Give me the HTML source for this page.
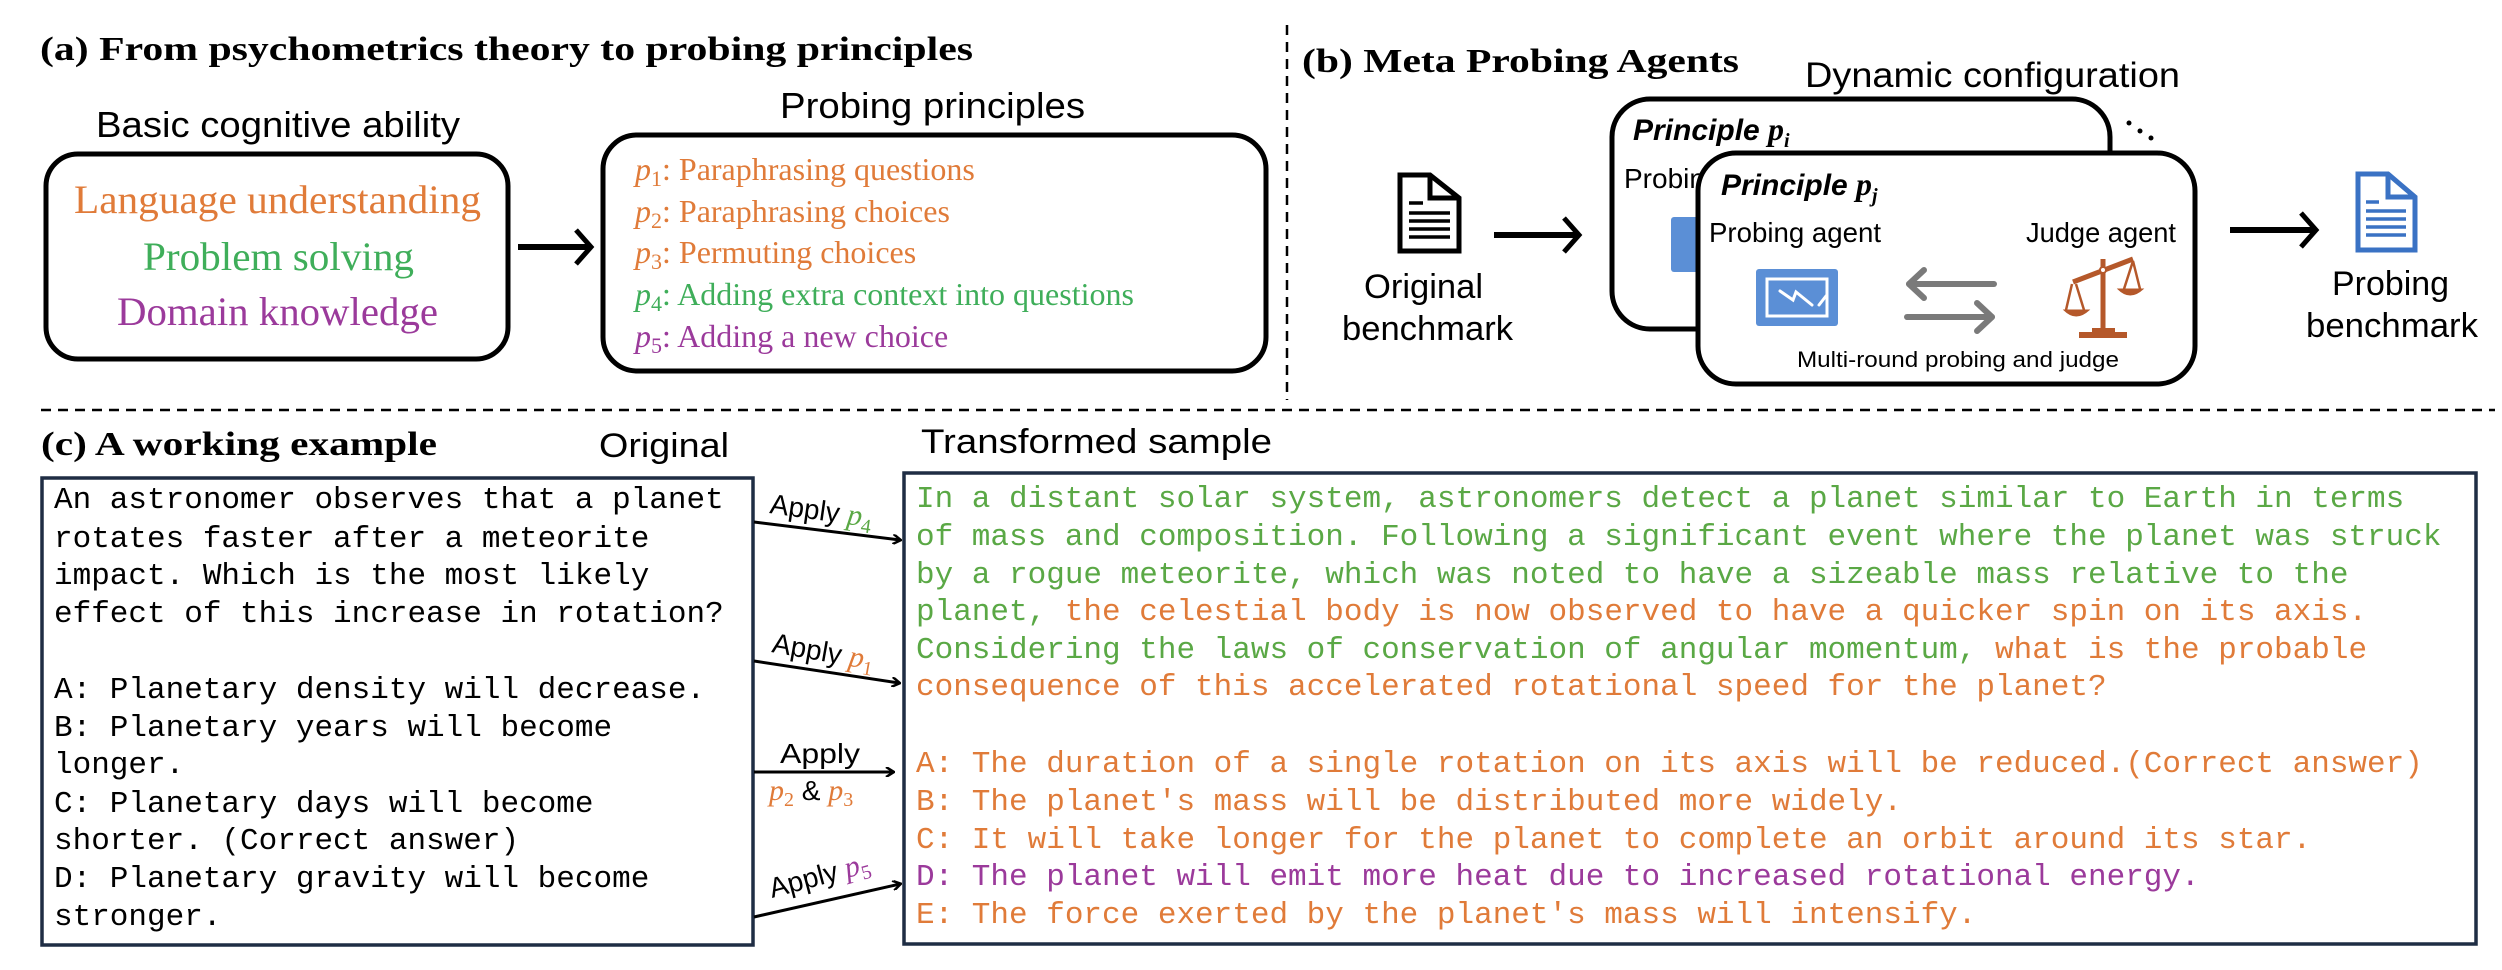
<!DOCTYPE html>
<html><head><meta charset="utf-8"><style>
html,body{margin:0;padding:0;background:#fff;}
svg{display:block;}
.sr{font-family:"Liberation Serif",serif;}
.ss{font-family:"Liberation Sans",sans-serif;}
.mo{font-family:"Liberation Mono",monospace;font-size:31px;}
</style></head><body>
<svg width="2502" height="970" viewBox="0 0 2502 970" xmlns="http://www.w3.org/2000/svg">
<defs>
<marker id="ah" markerWidth="10" markerHeight="10" refX="8" refY="5" orient="auto" markerUnits="userSpaceOnUse">
<path d="M1,0 L9,5 L1,10" fill="none" stroke="#000" stroke-width="2.5"/>
</marker>
</defs>
<rect width="2502" height="970" fill="#fff"/>

<!-- dashed separators -->
<line x1="1287" y1="25" x2="1287" y2="400" stroke="#000" stroke-width="2.5" stroke-dasharray="10,7"/>
<line x1="41" y1="410" x2="2495" y2="410" stroke="#000" stroke-width="2.5" stroke-dasharray="10,7"/>

<!-- (a) -->
<text class="sr" x="40" y="60" font-size="34" font-weight="bold" textLength="933" lengthAdjust="spacingAndGlyphs">(a) From psychometrics theory to probing principles</text>
<text class="ss" x="96" y="137" font-size="36" textLength="364" lengthAdjust="spacingAndGlyphs">Basic cognitive ability</text>
<rect x="46" y="154" width="462" height="205" rx="32" fill="none" stroke="#000" stroke-width="5"/>
<text class="sr" x="74" y="213" font-size="40" fill="#E07B39" textLength="407" lengthAdjust="spacingAndGlyphs">Language understanding</text>
<text class="sr" x="143" y="270" font-size="40" fill="#3FAE5A" textLength="271" lengthAdjust="spacingAndGlyphs">Problem solving</text>
<text class="sr" x="117" y="325" font-size="40" fill="#9B3A9B" textLength="321" lengthAdjust="spacingAndGlyphs">Domain knowledge</text>
<line x1="518" y1="247" x2="588" y2="247" stroke="#000" stroke-width="6"/>
<path d="M576,230 L591,247 L576,264" fill="none" stroke="#000" stroke-width="5"/>
<text class="ss" x="780" y="118" font-size="36" textLength="305" lengthAdjust="spacingAndGlyphs">Probing principles</text>
<rect x="603" y="135" width="663" height="236" rx="34" fill="none" stroke="#000" stroke-width="5"/>
<g class="sr" font-size="32">
<text x="635" y="180" fill="#E07B39"><tspan font-style="italic">p</tspan><tspan font-size="22" dy="6">1</tspan><tspan dy="-6">: Paraphrasing questions</tspan></text>
<text x="635" y="222" fill="#E07B39"><tspan font-style="italic">p</tspan><tspan font-size="22" dy="6">2</tspan><tspan dy="-6">: Paraphrasing choices</tspan></text>
<text x="635" y="263" fill="#E07B39"><tspan font-style="italic">p</tspan><tspan font-size="22" dy="6">3</tspan><tspan dy="-6">: Permuting choices</tspan></text>
<text x="635" y="305" fill="#3FAE5A"><tspan font-style="italic">p</tspan><tspan font-size="22" dy="6">4</tspan><tspan dy="-6">: Adding extra context into questions</tspan></text>
<text x="635" y="347" fill="#9B3A9B"><tspan font-style="italic">p</tspan><tspan font-size="22" dy="6">5</tspan><tspan dy="-6">: Adding a new choice</tspan></text>
</g>

<!-- (b) -->
<text class="sr" x="1302" y="72" font-size="34" font-weight="bold" textLength="437" lengthAdjust="spacingAndGlyphs">(b) Meta Probing Agents</text>
<text class="ss" x="1805" y="87" font-size="35" textLength="375" lengthAdjust="spacingAndGlyphs">Dynamic configuration</text>
<!-- left doc -->
<g fill="none" stroke="#000" stroke-width="5">
<path d="M1400,175 L1430,175 L1459,198 L1459,251 L1400,251 Z"/>
<path d="M1430,175 L1430,198 L1459,198"/>
</g>
<g stroke="#000" stroke-width="3.5">
<line x1="1409" y1="203" x2="1423" y2="203"/>
<line x1="1409" y1="213" x2="1450" y2="213"/>
<line x1="1409" y1="221" x2="1450" y2="221"/>
<line x1="1409" y1="229" x2="1450" y2="229"/>
<line x1="1409" y1="237" x2="1450" y2="237"/>
</g>
<text class="ss" x="1364" y="298" font-size="34" textLength="119" lengthAdjust="spacingAndGlyphs">Original</text>
<text class="ss" x="1342" y="340" font-size="34" textLength="171" lengthAdjust="spacingAndGlyphs">benchmark</text>
<line x1="1494" y1="235" x2="1576" y2="235" stroke="#000" stroke-width="6"/>
<path d="M1564,218 L1579,235 L1564,252" fill="none" stroke="#000" stroke-width="5"/>

<!-- back box -->
<rect x="1612" y="99" width="498" height="230" rx="38" fill="#fff" stroke="#000" stroke-width="5"/>
<text class="ss" x="1633" y="140" font-size="30" font-weight="bold" font-style="italic">Principle <tspan class="sr" font-size="32">p</tspan><tspan class="sr" font-size="20" dy="7">i</tspan></text>
<text class="ss" x="1624" y="188" font-size="28">Probing</text>
<rect x="1671" y="217" width="60" height="55" rx="3" fill="#5B8FD6"/>
<circle cx="2129" cy="123" r="2.5"/><circle cx="2140" cy="131" r="2.5"/><circle cx="2151" cy="138" r="2.5"/>
<!-- front box -->
<rect x="1698" y="153" width="497" height="231" rx="38" fill="#fff" stroke="#000" stroke-width="5"/>
<text class="ss" x="1721" y="195" font-size="30" font-weight="bold" font-style="italic">Principle <tspan class="sr" font-size="32">p</tspan><tspan class="sr" font-size="20" dy="7">j</tspan></text>
<text class="ss" x="1709" y="242" font-size="28" textLength="172" lengthAdjust="spacingAndGlyphs">Probing agent</text>
<text class="ss" x="2026" y="242" font-size="28" textLength="150" lengthAdjust="spacingAndGlyphs">Judge agent</text>
<!-- whiteboard icon -->
<rect x="1756" y="269" width="82" height="57" rx="3" fill="#5B8FD6"/>
<rect x="1767" y="279" width="60" height="37" fill="none" stroke="#fff" stroke-width="3"/>
<path d="M1780,291 L1793,300 L1796,292 L1812,305" fill="none" stroke="#fff" stroke-width="3" stroke-linecap="round"/>
<line x1="1826" y1="296" x2="1819" y2="305" stroke="#fff" stroke-width="3" stroke-linecap="round"/>
<!-- gray arrows -->
<g stroke="#7A7A7A" stroke-width="6" fill="none" stroke-linecap="round" stroke-linejoin="round">
<line x1="1909" y1="284" x2="1994" y2="284"/>
<path d="M1924,270 L1909,284 L1924,298"/>
<line x1="1907" y1="317" x2="1992" y2="317"/>
<path d="M1977,303 L1992,317 L1977,331"/>
</g>
<!-- scale icon -->
<g fill="#B5582A" stroke="#B5582A">
<line x1="2103" y1="259" x2="2103" y2="332" stroke-width="5"/>
<rect x="2079" y="332" width="48" height="6" stroke="none"/>
<rect x="2092" y="328" width="23" height="5" stroke="none"/>
<line x1="2073" y1="282" x2="2133" y2="259" stroke-width="5"/>
<circle cx="2103" cy="270" r="3" fill="#fff" stroke-width="2"/>
<path d="M2072,284 L2066,310 M2076,284 L2084,310 M2133,261 L2124,289 M2133,261 L2140,289" stroke-width="2.5" fill="none"/>
<path d="M2064,310 L2089,310 Q2076,322 2064,310 Z" stroke-width="1"/>
<path d="M2118,289 L2143,289 Q2130,301 2118,289 Z" stroke-width="1"/>
</g>
<text class="ss" x="1797" y="367" font-size="22" textLength="322" lengthAdjust="spacingAndGlyphs">Multi-round  probing and judge</text>
<!-- right arrow & blue doc -->
<line x1="2230" y1="230" x2="2313" y2="230" stroke="#000" stroke-width="6"/>
<path d="M2301,213 L2316,230 L2301,247" fill="none" stroke="#000" stroke-width="5"/>
<g fill="none" stroke="#3A72C4" stroke-width="5">
<path d="M2358,174 L2388,174 L2415,197 L2415,250 L2358,250 Z"/>
<path d="M2388,174 L2388,197 L2415,197"/>
</g>
<g stroke="#3A72C4" stroke-width="3.5">
<line x1="2366" y1="202" x2="2379" y2="202"/>
<line x1="2366" y1="211" x2="2406" y2="211"/>
<line x1="2366" y1="219" x2="2406" y2="219"/>
<line x1="2366" y1="227" x2="2406" y2="227"/>
<line x1="2366" y1="235" x2="2406" y2="235"/>
</g>
<text class="ss" x="2332" y="295" font-size="34" textLength="117" lengthAdjust="spacingAndGlyphs">Probing</text>
<text class="ss" x="2306" y="337" font-size="34" textLength="172" lengthAdjust="spacingAndGlyphs">benchmark</text>

<!-- (c) -->
<text class="sr" x="41" y="455" font-size="34" font-weight="bold" textLength="396" lengthAdjust="spacingAndGlyphs">(c) A working example</text>
<text class="ss" x="599" y="457" font-size="34" textLength="130" lengthAdjust="spacingAndGlyphs">Original</text>
<text class="ss" x="921" y="453" font-size="34" textLength="351" lengthAdjust="spacingAndGlyphs">Transformed sample</text>
<rect x="42" y="478" width="711" height="467" fill="none" stroke="#1F2D44" stroke-width="3.5"/>
<g class="mo" fill="#000">
<text x="54" y="508">An astronomer observes that a planet</text>
<text x="54" y="547">rotates faster after a meteorite</text>
<text x="54" y="584">impact. Which is the most likely</text>
<text x="54" y="622">effect of this increase in rotation?</text>
<text x="54" y="698">A: Planetary density will decrease.</text>
<text x="54" y="736">B: Planetary years will become</text>
<text x="54" y="773">longer.</text>
<text x="54" y="812">C: Planetary days will become</text>
<text x="54" y="849">shorter. (Correct answer)</text>
<text x="54" y="887">D: Planetary gravity will become</text>
<text x="54" y="925">stronger.</text>
</g>
<rect x="904" y="473" width="1572" height="471" fill="none" stroke="#1F2D44" stroke-width="3.5"/>
<g class="mo">
<text x="916" y="507" fill="#5AA845">In a distant solar system, astronomers detect a planet similar to Earth in terms</text>
<text x="916" y="545" fill="#5AA845">of mass and composition. Following a significant event where the planet was struck</text>
<text x="916" y="583" fill="#5AA845">by a rogue meteorite, which was noted to have a sizeable mass relative to the</text>
<text x="916" y="620" fill="#5AA845">planet, <tspan fill="#E07B39">the celestial body is now observed to have a quicker spin on its axis.</tspan></text>
<text x="916" y="658" fill="#5AA845">Considering the laws of conservation of angular momentum, <tspan fill="#E07B39">what is the probable</tspan></text>
<text x="916" y="695" fill="#E07B39">consequence of this accelerated rotational speed for the planet?</text>
<text x="916" y="772" fill="#E07B39">A: The duration of a single rotation on its axis will be reduced.(Correct answer)</text>
<text x="916" y="810" fill="#E07B39">B: The planet's mass will be distributed more widely.</text>
<text x="916" y="848" fill="#E07B39">C: It will take longer for the planet to complete an orbit around its star.</text>
<text x="916" y="885" fill="#9B3A9B">D: The planet will emit more heat due to increased rotational energy.</text>
<text x="916" y="923" fill="#E07B39">E: The force exerted by the planet's mass will intensify.</text>
</g>
<!-- apply arrows -->
<g stroke="#000" stroke-width="3" fill="none">
<line x1="754" y1="522" x2="900" y2="540" marker-end="url(#ah)"/>
<line x1="754" y1="661" x2="899" y2="683" marker-end="url(#ah)"/>
<line x1="754" y1="772" x2="893" y2="772" marker-end="url(#ah)"/>
<line x1="754" y1="917" x2="900" y2="884" marker-end="url(#ah)"/>
</g>
<g class="ss" font-size="28">
<text transform="translate(769,513) rotate(8)">Apply <tspan class="sr" font-style="italic" fill="#5AA845" font-size="30">p</tspan><tspan class="sr" fill="#5AA845" font-size="20" dy="6">4</tspan></text>
<text transform="translate(771,652) rotate(10)">Apply <tspan class="sr" font-style="italic" fill="#E07B39" font-size="30">p</tspan><tspan class="sr" fill="#E07B39" font-size="20" dy="6">1</tspan></text>
<text x="780" y="763" textLength="80" lengthAdjust="spacingAndGlyphs">Apply</text>
<text x="769" y="800"><tspan class="sr" font-style="italic" fill="#E07B39" font-size="30">p</tspan><tspan class="sr" fill="#E07B39" font-size="20" dy="6">2</tspan><tspan dy="-6"> &amp; </tspan><tspan class="sr" font-style="italic" fill="#E07B39" font-size="30">p</tspan><tspan class="sr" fill="#E07B39" font-size="20" dy="6">3</tspan></text>
<text transform="translate(772,898) rotate(-15)">Apply <tspan class="sr" font-style="italic" fill="#9B3A9B" font-size="30">p</tspan><tspan class="sr" fill="#9B3A9B" font-size="20" dy="6">5</tspan></text>
</g>
</svg>
</body></html>
